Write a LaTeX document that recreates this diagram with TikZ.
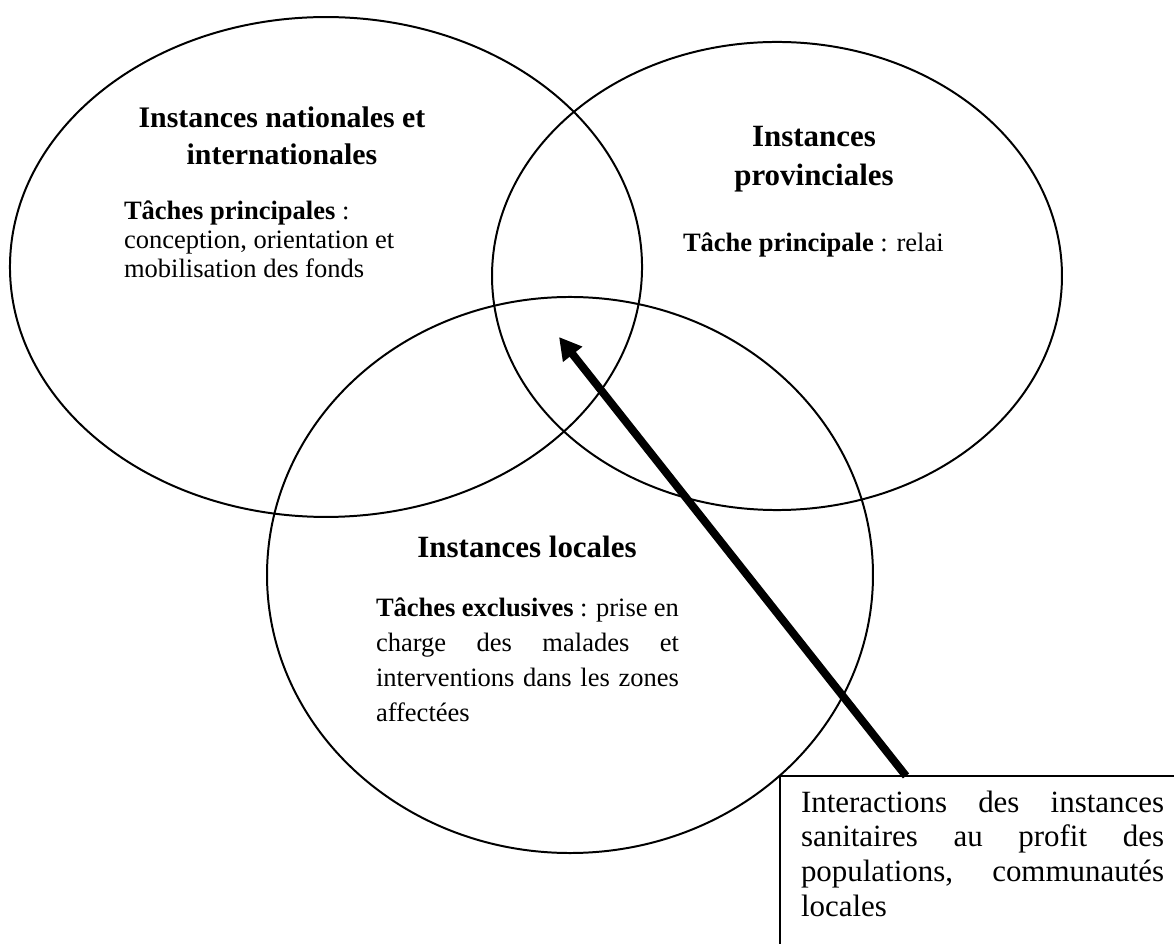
\documentclass[tikz,border=0pt]{standalone}
\usepackage{fontspec}
\setmainfont{Liberation Serif}
\usetikzlibrary{shapes.geometric, arrows.meta, calc}
\begin{document}
\begin{tikzpicture}[x=0.4525pt, y=-0.4525pt,
  venn/.style={draw, ellipse, line width=0.9pt, inner sep=0pt, outer sep=0pt},
  txt/.style={inner sep=0pt, outer sep=0pt},
  notebox/.style={draw, line width=1pt, fill=white, rectangle, anchor=north west,
    inner sep=0pt, outer sep=0pt, minimum width=196pt, minimum height=94pt},
  bigarrow/.style={line width=3.6pt, -{Triangle[length=10pt,width=10.5pt]}}
]
\useasboundingbox (0,0) rectangle (1174,944);

% the three overlapping levels
\node[venn, minimum width=286pt, minimum height=226.2pt] (nat) at (326,267) {};
\node[venn, minimum width=257.9pt, minimum height=211.8pt] (prov) at (777,276) {};
\node[venn, minimum width=274.2pt, minimum height=251.6pt] (loc) at (570,575) {};

% national and international level
\node[txt, anchor=base] (natT) at (282,128)
  {\parbox[t]{150pt}{\centering\bfseries\fontsize{13.5}{16.7}\selectfont
   Instances nationales et\\internationales}};
\node[txt, anchor=base west] (natB) at (124,220)
  {\parbox[t]{135pt}{\raggedright\fontsize{12}{13.1}\selectfont
   \textbf{Tâches principales} :\\conception, orientation et\\mobilisation des fonds}};

% provincial level
\node[txt, anchor=base] (provT) at (814,147)
  {\parbox[t]{110pt}{\centering\bfseries\fontsize{14}{17.2}\selectfont
   Instances\\provinciales}};
\node[txt, anchor=base west] (provB) at (683,252)
  {\fontsize{12}{14}\selectfont\textbf{Tâche principale} : relai};

% local level
\node[txt, anchor=base] (locT) at (527,558)
  {\bfseries\fontsize{14}{17}\selectfont Instances locales};
\node[txt, anchor=base west] (locB) at (376,617)
  {\parbox[t]{137.1pt}{\fontsize{12}{15.7}\selectfont
   \makebox[\linewidth][s]{\textbf{Tâches exclusives} : prise en}\\
   \makebox[\linewidth][s]{charge des malades et}\\
   \makebox[\linewidth][s]{interventions dans les zones}\\
   affectées}};

% explanatory note and its pointer
\node[notebox] (box) at (780,776) {};
\node[txt, anchor=base west] (boxT) at (801,812)
  {\parbox[t]{164.3pt}{\fontsize{14}{15.7}\selectfont
   \makebox[\linewidth][s]{Interactions des instances}\\
   \makebox[\linewidth][s]{sanitaires au profit des}\\
   \makebox[\linewidth][s]{populations, communautés}\\
   locales}};

\coordinate (tip) at (559,337);
\coordinate (tail) at ($(box.north west)+(126,0)$);
\draw[bigarrow] (tail) -- (tip);
\end{tikzpicture}
\end{document}
